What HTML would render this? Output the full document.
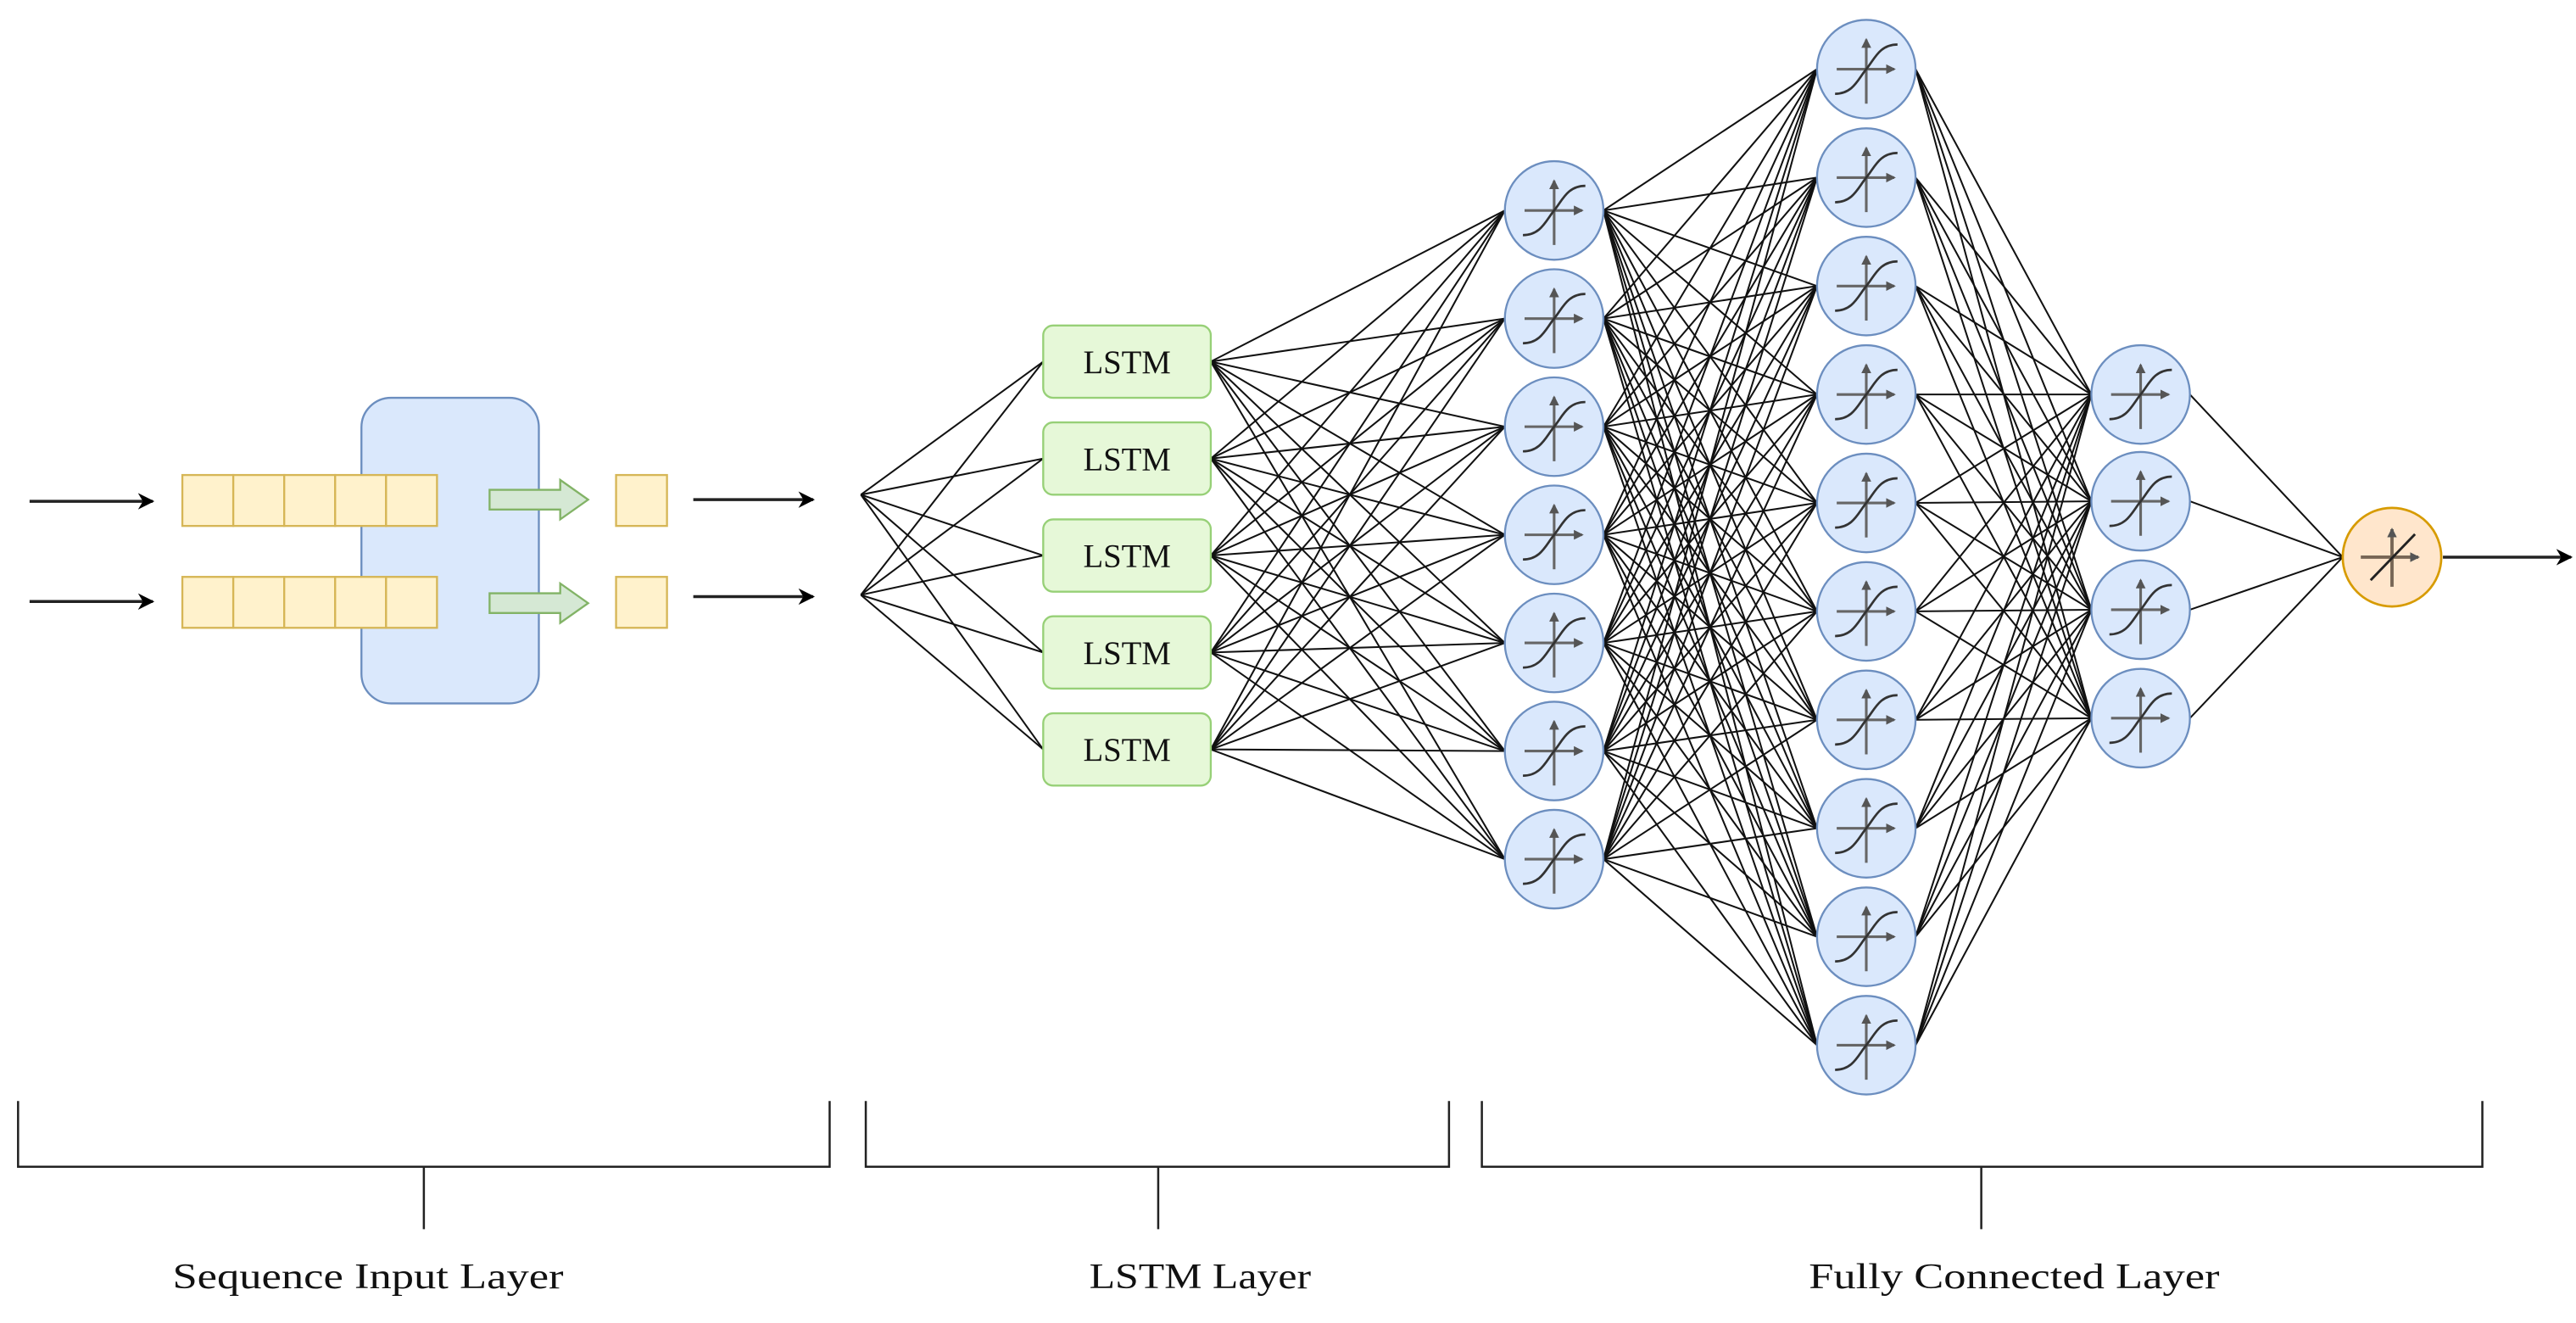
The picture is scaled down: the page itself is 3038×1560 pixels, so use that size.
<!DOCTYPE html>
<html><head><meta charset="utf-8"><style>html,body{margin:0;padding:0;background:#fff}svg{display:block}</style></head>
<body>
<svg id="s" width="3038" height="1560" viewBox="0 0 1568 805" xmlns="http://www.w3.org/2000/svg">
<defs>
<marker id="ah" markerWidth="10" markerHeight="10" refX="9" refY="5" orient="auto" markerUnits="userSpaceOnUse"><path d="M0,0 L10,5 L0,10 L3,5 Z" fill="#000"/></marker>
<marker id="sa" markerWidth="6" markerHeight="6" refX="5" refY="3" orient="auto" markerUnits="userSpaceOnUse"><path d="M0,0 L6,3 L0,6 Z" fill="#555"/></marker>
<g id="sig">
<line x1="-18" y1="0" x2="17" y2="0" stroke="#666" stroke-width="1.6" marker-end="url(#sa)"/>
<line x1="0" y1="21" x2="0" y2="-18" stroke="#666" stroke-width="1.6" marker-end="url(#sa)"/>
<path d="M-19,15 C-8,15 -5,6 0,0 C5,-6 8,-15 19,-15" fill="none" stroke="#333" stroke-width="1.4"/>
</g>
</defs>
<g id="lines" stroke="#111" stroke-width="1.05" fill="none"></g>
<g id="nodes"></g>
<g stroke="#222" stroke-width="1.8">
<line x1="18" y1="305" x2="93" y2="305" marker-end="url(#ah)"/>
<line x1="18" y1="366" x2="93" y2="366" marker-end="url(#ah)"/>
<line x1="422" y1="304" x2="495" y2="304" marker-end="url(#ah)"/>
<line x1="422" y1="363" x2="495" y2="363" marker-end="url(#ah)"/>
<line x1="1487" y1="339" x2="1565" y2="339" marker-end="url(#ah)"/>
</g>
<rect x="220" y="242" width="108" height="186" rx="18" fill="#dae8fc" stroke="#6c8ebf" stroke-width="1.2"/>
<g fill="#fff2cc" stroke="#d6b656" stroke-width="1.2">
<rect x="111" y="289" width="31" height="31"/><rect x="142" y="289" width="31" height="31"/><rect x="173" y="289" width="31" height="31"/><rect x="204" y="289" width="31" height="31"/><rect x="235" y="289" width="31" height="31"/>
<rect x="111" y="351" width="31" height="31"/><rect x="142" y="351" width="31" height="31"/><rect x="173" y="351" width="31" height="31"/><rect x="204" y="351" width="31" height="31"/><rect x="235" y="351" width="31" height="31"/>
<rect x="375" y="289" width="31" height="31"/><rect x="375" y="351" width="31" height="31"/>
</g>
<g fill="#d5e8d4" stroke="#82b366" stroke-width="1.2">
<path d="M298,298 L341,298 L341,292 L358,304 L341,316 L341,310 L298,310 Z"/>
<path d="M298,361 L341,361 L341,355 L358,367 L341,379 L341,373 L298,373 Z"/>
</g>
<g stroke="#222" stroke-width="1.3" fill="none">
<path d="M11,670 V710 H505 V670 M258,710 V748"/>
<path d="M527,670 V710 H882 V670 M705,710 V748"/>
<path d="M902,670 V710 H1511 V670 M1206,710 V748"/>
</g>
<g font-family="'Liberation Serif', serif" font-size="22" fill="#111">
<text x="105" y="784" textLength="238" lengthAdjust="spacingAndGlyphs">Sequence Input Layer</text>
<text x="663" y="784" textLength="135" lengthAdjust="spacingAndGlyphs">LSTM Layer</text>
<text x="1101" y="784" textLength="250" lengthAdjust="spacingAndGlyphs">Fully Connected Layer</text>
</g>
<script>
var NS="http://www.w3.org/2000/svg";
var L=document.getElementById("lines"),N=document.getElementById("nodes");
function ln(a,b,c,d){var e=document.createElementNS(NS,"line");e.setAttribute("x1",a);e.setAttribute("y1",b);e.setAttribute("x2",c);e.setAttribute("y2",d);L.appendChild(e);}
var lstm=[220,279,338,397,456];
var l2=[],l3=[],l4=[240,305,371,437];
for(var i=0;i<7;i++)l2.push(128+i*65.8);
for(var i=0;i<10;i++)l3.push(42+i*66);
[301,362].forEach(function(y){lstm.forEach(function(v){ln(524,y,635,v);});});
lstm.forEach(function(a){l2.forEach(function(b){ln(737,a,916,b);});});
l2.forEach(function(a){l3.forEach(function(b){ln(976,a,1106,b);});});
l3.forEach(function(a){l4.forEach(function(b){ln(1166,a,1273,b);});});
l4.forEach(function(a){ln(1333,a,1426,339);});
lstm.forEach(function(y){
 var r=document.createElementNS(NS,"rect");r.setAttribute("x",635);r.setAttribute("y",y-22);r.setAttribute("width",102);r.setAttribute("height",44);r.setAttribute("rx",6);
 r.setAttribute("fill","#e6f8d8");r.setAttribute("stroke","#97d077");r.setAttribute("stroke-width","1.2");N.appendChild(r);
 var t=document.createElementNS(NS,"text");t.setAttribute("x",686);t.setAttribute("y",y+7);t.setAttribute("text-anchor","middle");
 t.setAttribute("font-family","'Liberation Serif', serif");t.setAttribute("font-size","20");t.setAttribute("fill","#111");t.textContent="LSTM";N.appendChild(t);
});
function circ(x,y){var c=document.createElementNS(NS,"circle");c.setAttribute("cx",x);c.setAttribute("cy",y);c.setAttribute("r",30);
 c.setAttribute("fill","#dae8fc");c.setAttribute("stroke","#6c8ebf");c.setAttribute("stroke-width","1.2");N.appendChild(c);
 var u=document.createElementNS(NS,"use");u.setAttribute("href","#sig");u.setAttribute("transform","translate("+x+","+y+")");N.appendChild(u);}
l2.forEach(function(y){circ(946,y);});
l3.forEach(function(y){circ(1136,y);});
l4.forEach(function(y){circ(1303,y);});
</script>
<circle cx="1456" cy="339" r="30" fill="#ffe6cc" stroke="#d79b00" stroke-width="1.4"/>
<g stroke="#776655" stroke-width="2">
<line x1="1437" y1="339" x2="1472" y2="339" marker-end="url(#sa)"/>
<line x1="1456" y1="357" x2="1456" y2="322" marker-end="url(#sa)"/>
</g>
<line x1="1443" y1="353" x2="1470" y2="325" stroke="#222" stroke-width="1.5"/>
</svg>
</body></html>
